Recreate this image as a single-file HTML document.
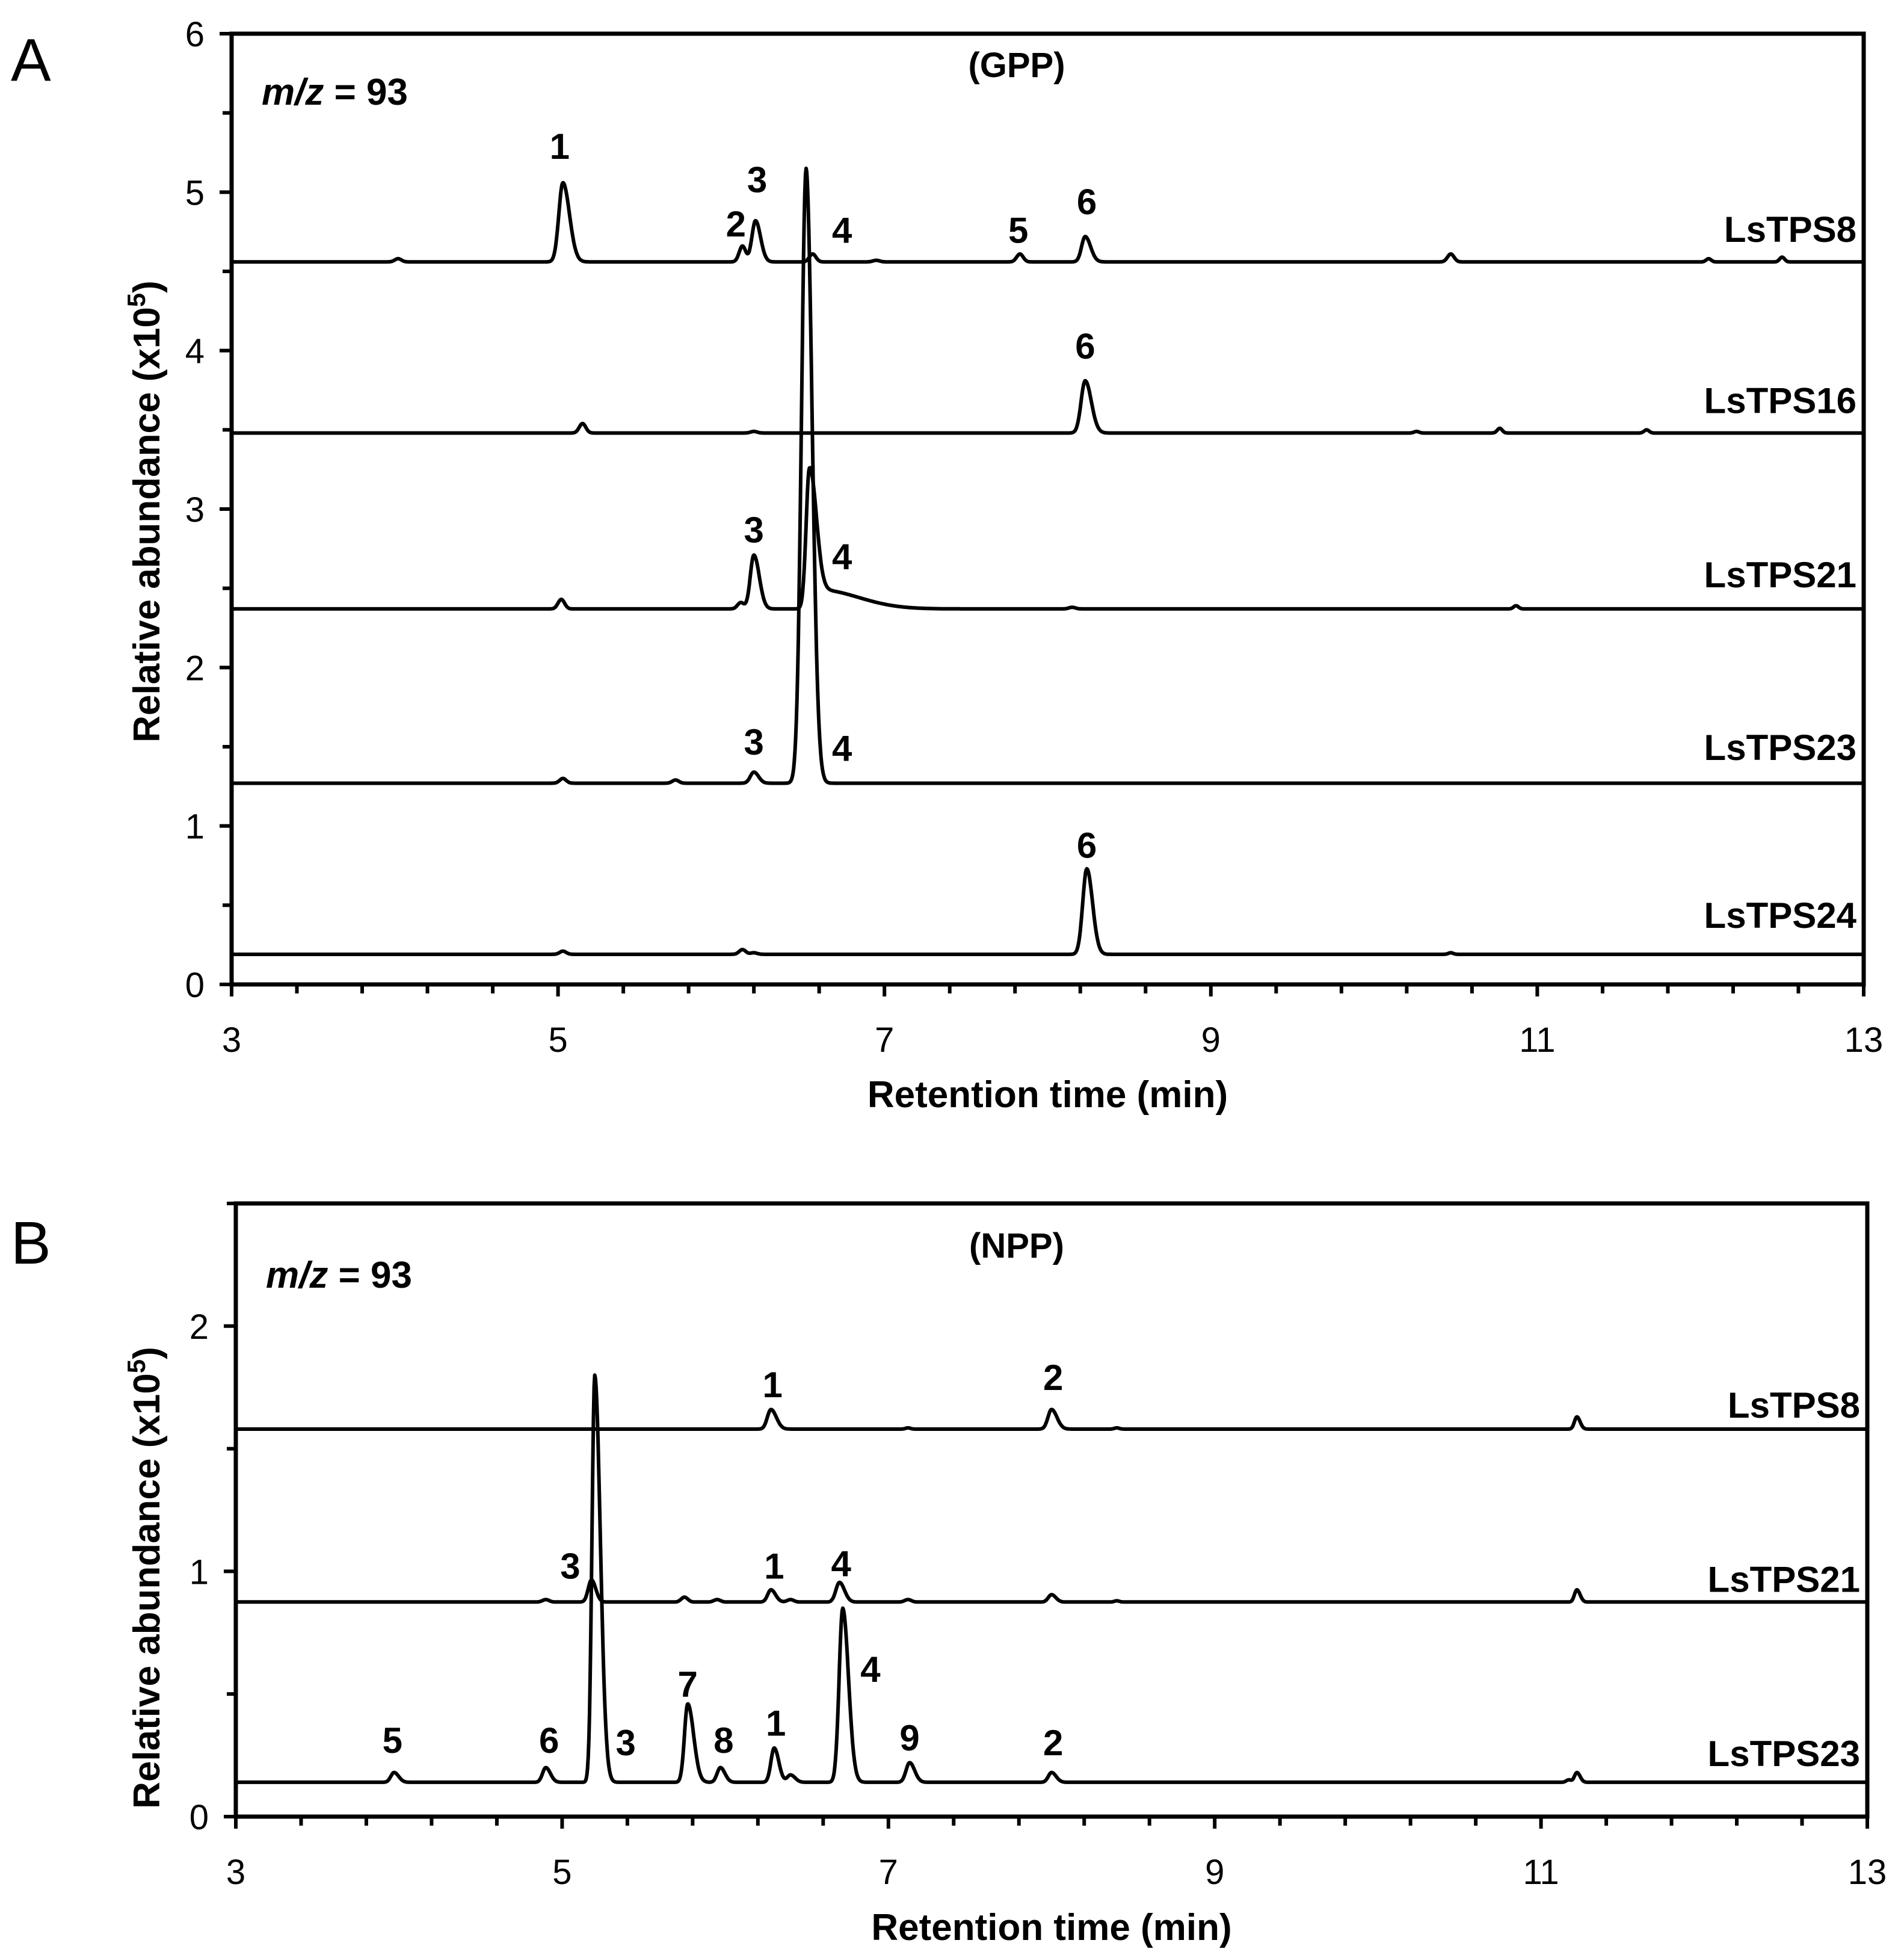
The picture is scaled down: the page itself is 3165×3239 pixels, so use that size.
<!DOCTYPE html>
<html><head><meta charset="utf-8"><style>
body{margin:0;background:#fff}
svg{display:block}
text{font-family:"Liberation Sans",Arial,sans-serif;fill:#000}
.tk{font-size:58px}
.bd{font-weight:bold}
</style></head><body>
<svg id="fig" width="3165" height="3239" viewBox="0 0 3165 3239" xmlns="http://www.w3.org/2000/svg"></svg>
<script>
// ---------- Panel A data (GPP) ----------
const aTraceNames = ["LsTPS8","LsTPS16","LsTPS21","LsTPS23","LsTPS24"];
const aBaselines = [4.56, 3.48, 2.37, 1.27, 0.19];
const aPeakTimes = [
  [4.02,5.03,6.13,6.21,6.56,6.95,7.83,8.23,10.47,12.05,12.5],
  [5.15,6.2,8.23,10.26,10.77,11.67],
  [5.02,6.12,6.2,6.54,6.6,8.15,10.87],
  [5.03,5.72,6.2,6.52],
  [5.03,6.13,6.2,8.24,10.47]
];
const aPeakHeights = [
  [0.02,0.5,0.1,0.26,0.05,0.01,0.05,0.16,0.05,0.02,0.03],
  [0.06,0.01,0.33,0.01,0.03,0.02],
  [0.06,0.04,0.34,0.85,0.12,0.01,0.02],
  [0.03,0.02,0.07,3.88],
  [0.02,0.03,0.01,0.54,0.01]
];
const aPeakWidths = [
  [0.02,0.025,0.02,0.022,0.02,0.02,0.02,0.022,0.02,0.015,0.015],
  [0.02,0.02,0.025,0.015,0.015,0.015],
  [0.02,0.02,0.022,0.02,0.04,0.02,0.015],
  [0.02,0.02,0.022,0.028],
  [0.02,0.02,0.02,0.025,0.015]
];
const aPeakAsym = [
  [1,1.6,1,1.4,1,1,1,1.5,1,1,1],
  [1,1,1.5,1,1,1],
  [1,1,1.5,2.0,6,1,1],
  [1,1,1.3,1.3],
  [1,1,1,1.4,1]
];
const aLabels = [
  ["1",5.01,5.21],["2",6.09,4.72],["3",6.22,5.0],["4",6.74,4.68],["5",7.82,4.68],["6",8.24,4.86],
  ["6",8.23,3.95],
  ["3",6.2,2.79],["4",6.74,2.62],
  ["3",6.2,1.45],["4",6.74,1.41],
  ["6",8.24,0.80]
];
const aNameY = [4.77, 3.69, 2.59, 1.5, 0.44];
const aYTicks = [0,1,2,3,4,5,6];

// ---------- Panel B data (NPP) ----------
const bTraceNames = ["LsTPS8","LsTPS21","LsTPS23"];
const bBaselines = [1.58, 0.875, 0.14];
const bPeakTimes = [
  [6.28,7.12,8.0,8.4,11.22],
  [4.9,5.18,5.75,5.95,6.28,6.4,6.7,7.12,8.0,8.4,11.22],
  [3.97,4.9,5.2,5.77,5.97,6.3,6.4,6.72,7.13,8.0,11.17,11.22]
];
const bPeakHeights = [
  [0.08,0.005,0.08,0.005,0.05],
  [0.01,0.09,0.02,0.01,0.05,0.01,0.08,0.01,0.03,0.005,0.05],
  [0.04,0.06,1.66,0.32,0.06,0.14,0.03,0.71,0.08,0.04,0.01,0.04]
];
const bPeakWidths = [
  [0.022,0.015,0.022,0.015,0.015],
  [0.02,0.02,0.02,0.02,0.02,0.02,0.022,0.02,0.02,0.015,0.015],
  [0.02,0.02,0.017,0.02,0.02,0.02,0.02,0.022,0.022,0.02,0.015,0.015]
];
const bPeakAsym = [
  [1.5,1,1.5,1,1.3],
  [1,1.3,1,1,1.4,1,1.4,1,1.3,1,1.3],
  [1.4,1.4,2.0,1.8,1.4,1.4,1.4,1.6,1.4,1.4,1,1.3]
];
const bLabels = [
  ["1",6.29,1.71],["2",8.01,1.74],
  ["3",5.05,0.97],["1",6.30,0.97],["4",6.71,0.98],
  ["5",3.96,0.26],["6",4.92,0.26],["3",5.39,0.25],["7",5.77,0.49],["8",5.99,0.26],
  ["1",6.31,0.33],["4",6.89,0.55],["9",7.13,0.27],["2",8.01,0.25]
];
const bNameY = [1.68, 0.97, 0.26];
const bYTicks = [0,1,2];

const xTicks = [3,5,7,9,11,13];

const NS = "http://www.w3.org/2000/svg";
const svg = document.getElementById("fig");
function mk(tag, attrs, parent){
  const e = document.createElementNS(NS, tag);
  for (const k in attrs) e.setAttribute(k, attrs[k]);
  (parent||svg).appendChild(e);
  return e;
}

function signal(t, base, times, heights, widths, asym){
  let v = base;
  for (let i=0;i<times.length;i++){
    const s = t < times[i] ? widths[i] : widths[i]*asym[i];
    const d = (t - times[i]) / s;
    v += heights[i]*Math.exp(-0.5*d*d);
  }
  return v;
}

function panel(cfg){
  const g = mk("g", {});
  
  
  const X = t => cfg.x0 + (t-3)/(10)*(cfg.x1-cfg.x0);
  const Y = v => cfg.y0 - (v-0)/(cfg.ymax)*(cfg.y0-cfg.yTop);
  const frame = mk("rect", {x:cfg.x0, y:cfg.yTop, width:cfg.x1-cfg.x0, height:cfg.y0-cfg.yTop, fill:"none", stroke:"#000", "stroke-width":7}, g);
  
  
  for (let t=3; t<=13.001; t+=0.4){
    const major = Math.abs(Math.round(t)-t)<0.01 && Math.round(t)%2===1;
    const tk = mk("line", {x1:X(t), x2:X(t), y1:cfg.y0, y2:cfg.y0+(major?20:15), stroke:"#000", "stroke-width":6}, g);
    
    
  }
  xTicks.forEach(t=>{
    const tl = mk("text", {x:X(t), y:cfg.y0+112, "text-anchor":"middle", class:"tk"}, g);
    tl.textContent = t;
    
    
  });
  for (let v=0; v<=cfg.ymax+0.001; v+=0.5){
    const major = Math.abs(Math.round(v)-v)<0.01;
    const tk = mk("line", {x1:cfg.x0-(major?20:15), x2:cfg.x0, y1:Y(v), y2:Y(v), stroke:"#000", "stroke-width":6}, g);
    
    
  }
  cfg.yTicks.forEach(v=>{
    const tl = mk("text", {x:cfg.x0-45, y:Y(v)+21, "text-anchor":"end", class:"tk"}, g);
    tl.textContent = v;
    
    
  });
  cfg.names.forEach((nm,i)=>{
    let d = "";
    for (let t=3; t<=13.0001; t+=0.004){
      const v = signal(t, cfg.base[i], cfg.times[i], cfg.heights[i], cfg.widths[i], cfg.asym[i]);
      d += (d?"L":"M") + X(t).toFixed(1) + " " + Y(v).toFixed(1);
    }
    const p = mk("path", {d:d, fill:"none", stroke:"#000", "stroke-width":6, "stroke-linejoin":"round"}, g);
    
    
    const lb = mk("text", {x:cfg.x1-12, y:Y(cfg.nameY[i])+22, "text-anchor":"end", class:"bd", "font-size":60}, g);
    lb.textContent = nm;
    
    
  });
  cfg.labels.forEach(l=>{
    const tl = mk("text", {x:X(l[1]), y:Y(l[2]), "text-anchor":"middle", class:"bd", "font-size":60}, g);
    tl.textContent = l[0];
    
    
  });
  const xt = mk("text", {x:(cfg.x0+cfg.x1)/2, y:cfg.xTitleY, "text-anchor":"middle", class:"bd", "font-size":62}, g);
  xt.textContent = "Retention time (min)";
  
  
  const yt = mk("text", {x:0, y:0, "text-anchor":"middle", class:"bd", "font-size":62, transform:`translate(265 ${cfg.yTitleY}) rotate(-90)`}, g);
  yt.innerHTML = 'Relative abundance (x10<tspan dy="-24" font-size="42">5</tspan><tspan dy="24">)</tspan>';
  
  
  const sub = mk("text", {x:1690, y:cfg.subY, "text-anchor":"middle", class:"bd", "font-size":58}, g);
  sub.textContent = cfg.sub;
  
  
  const mz = mk("text", {x:cfg.x0+50, y:cfg.mzY, class:"bd", "font-size":62}, g);
  mz.innerHTML = '<tspan font-style="italic">m/z</tspan> = 93';
  
  
  const pl = mk("text", {x:18, y:cfg.letterY, "font-size":100}, g);
  pl.textContent = cfg.letter;
  
  
}

panel({name:"panel-a-gpp", x0:385, x1:3098, y0:1636, yTop:56, ymax:6, yTicks:aYTicks,
  names:aTraceNames, base:aBaselines, times:aPeakTimes, heights:aPeakHeights, widths:aPeakWidths, asym:aPeakAsym,
  labels:aLabels, nameY:aNameY, xTitleY:1840, yTitleY:850, sub:"(GPP)", subY:128, mzY:174, letter:"A", letterY:134});
panel({name:"panel-b-npp", x0:392, x1:3104, y0:3019, yTop:2000, ymax:2.5, yTicks:bYTicks,
  names:bTraceNames, base:bBaselines, times:bPeakTimes, heights:bPeakHeights, widths:bPeakWidths, asym:bPeakAsym,
  labels:bLabels, nameY:bNameY, xTitleY:3224, yTitleY:2622, sub:"(NPP)", subY:2090, mzY:2140, letter:"B", letterY:2100});
</script>
</body></html>
